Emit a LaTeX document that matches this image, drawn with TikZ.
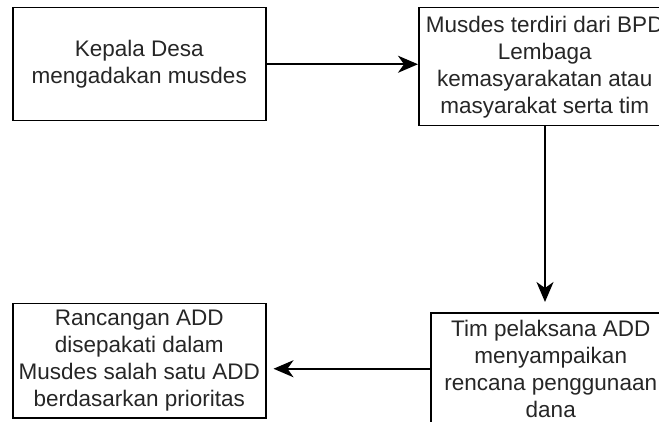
\documentclass[tikz,border=0pt]{standalone}
\usepackage{fontspec}
\setmainfont{Liberation Sans}
\usetikzlibrary{arrows.meta}
\tikzset{
  box/.style={draw, line width=1.5pt, anchor=north west, align=center, inner sep=0pt,
    font=\fontsize{22.5}{27}\selectfont, text=black!85},
  arr/.style={line width=1.5pt, -{Stealth[length=20pt,width=17pt,inset=6pt]}}
}
\begin{document}
\begin{tikzpicture}[x=1pt,y=-1pt]
\useasboundingbox (0,0) rectangle (659,422);
\clip (0,0) rectangle (659,422);
\node[box, minimum width=253pt, minimum height=113pt] (b1) at (12,7)
  {Kepala Desa\\mengadakan musdes};
\node[box, minimum width=252pt, minimum height=118pt] (b2) at (418,7)
  {Musdes terdiri dari BPD\\Lembaga\\kemasyarakatan atau\\masyarakat serta tim};
\node[box, minimum width=240pt, minimum height=112pt] (b3) at (430,312)
  {Tim pelaksana ADD\\menyampaikan\\rencana penggunaan\\dana};
\node[box, minimum width=253pt, minimum height=114pt] (b4) at (12,303)
  {Rancangan ADD\\disepakati dalam\\Musdes salah satu ADD\\berdasarkan prioritas};
\coordinate (ax) at (545,0);
\draw[arr] (b1.east) -- (b1.east -| b2.west);
\draw[arr, shorten >=10pt] (b2.south -| ax) -- (b3.north -| ax);
\draw[arr, shorten >=7pt] (b3.west) -- (b3.west -| b4.east);
\end{tikzpicture}
\end{document}
